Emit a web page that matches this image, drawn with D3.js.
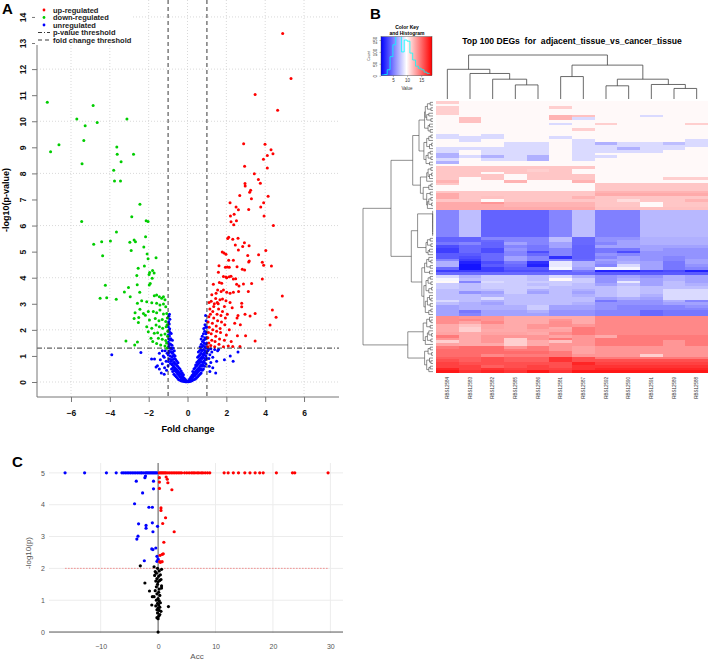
<!DOCTYPE html>
<html><head><meta charset="utf-8">
<script src="https://cdn.jsdelivr.net/npm/d3@7"></script>
<style>body{margin:0;background:#fff}svg{display:block}text{font-family:"Liberation Sans",Arial,sans-serif}</style>
</head><body><svg id="c" width="708" height="661"></svg>
<script>
// ---------------- Panel A data (volcano) ----------------
const volcanoXTicks = [-6,-4,-2,0,2,4,6];
const volcanoYTicks = [0,1,2,3,4,5,6,7,8,9,10,11,12,13,14];
const volcanoGridY = [0,2,4,6,8,10,12,14];
const pThreshold = 1.3;
const fcThresholds = [-1, 1];
const legendLabels = ["up-regulated","down-regulated","unregulated","p-value threshold","fold change threshold"];
const volcanoUp = [
[4.90,13.37],[5.33,11.64],[3.48,11.03],[4.64,10.42],[2.89,9.14],[3.99,9.12],[4.30,8.91],[4.40,8.75],[4.11,8.69],[3.91,8.54],[2.94,8.27],[4.11,8.21],[3.44,7.99],[3.65,7.77],[3.75,7.62],[2.96,7.61],[2.97,7.52],[3.25,7.35],[3.20,7.28],[2.69,7.15],[4.15,7.12],[3.29,7.03],[2.19,6.87],[3.92,6.87],[2.50,6.71],[2.62,6.61],[3.77,6.71],[3.15,6.62],[2.40,6.43],[3.94,6.37],[2.21,6.37],[2.52,6.18],[2.24,6.15],[2.38,6.03],[4.42,6.0],[2.12,5.55],[2.07,5.50],[2.33,5.47],[2.60,5.51],[2.93,5.34],[3.17,5.23],[2.46,5.25],[2.84,5.20],[2.62,5.06],[4.03,5.04],[1.79,4.99],[1.88,4.95],[1.98,4.90],[3.66,4.88],[3.10,4.85],[2.12,4.67],[2.36,4.67],[3.18,4.64],[3.15,4.60],[3.85,4.59],[3.92,4.48],[1.62,4.46],[1.95,4.40],[2.05,4.41],[2.15,4.40],[2.55,4.42],[2.82,4.32],[2.94,4.30],[4.32,4.45],[1.59,4.21],[1.85,4.05],[1.98,4.03],[2.24,4.06],[2.48,3.96],[3.85,3.95],
[1.33,3.75],[1.64,3.82],[1.76,3.79],[2.02,4.0],[2.15,4.04],[2.36,3.95],[2.53,3.75],[2.65,3.68],[2.88,3.76],[3.30,3.78],[1.85,3.53],[2.02,3.44],[2.19,3.40],[2.36,3.44],[2.63,3.47],[3.13,3.47],[1.55,3.53],[1.47,3.40],[1.73,3.47],[4.88,3.30],
[1.11,3.05],[1.22,3.1],[1.38,3.0],[1.53,3.05],[1.67,3.15],[1.80,3.18],[1.98,3.12],[2.19,3.05],[2.79,2.89],[2.79,3.02],[4.37,2.76],[4.56,2.48],[4.25,2.19],[3.22,2.53],[3.48,2.63],[2.96,2.6],[2.6,2.55],[2.55,2.45],[2.43,2.25],[2.72,2.2],[3.48,1.57],[2.99,1.77],[2.57,1.77],[2.10,1.38],[2.33,1.36],[2.70,1.36],
[1.05,1.35],[1.1,1.5],[1.05,1.7],[1.08,1.9],[1.12,2.1],[1.06,2.3],[1.1,2.5],[1.15,2.8],[1.2,1.4],[1.25,1.6],[1.22,1.85],[1.3,2.0],[1.28,2.25],[1.35,2.45],[1.3,2.7],[1.4,1.35],[1.42,1.55],[1.45,1.75],[1.5,1.95],[1.48,2.15],[1.55,2.35],[1.52,2.6],[1.6,2.8],[1.62,1.45],[1.65,1.65],[1.7,1.9],[1.68,2.05],[1.75,2.3],[1.72,2.55],[1.8,2.7],[1.85,1.35],[1.9,1.6],[1.92,2.2],[1.95,2.45],[2.0,1.8],[1.35,2.9],[1.58,3.0],[1.9,2.9],[2.05,2.6],[2.15,2.0],[2.25,1.55],[2.3,2.85],[1.18,2.6],[1.45,3.2],[1.25,3.35]
];
const volcanoDown = [
[-7.22,10.73],[-5.70,10.09],[-4.86,10.6],[-5.27,9.83],[-4.65,9.95],[-3.12,10.09],
[-7.05,8.83],[-6.62,9.1],[-5.34,9.26],[-3.64,9.01],[-3.62,8.73],[-2.78,8.73],[-3.42,8.45],[-5.43,8.37],[-3.80,8.12],[-3.76,7.71],[-3.45,7.71],
[-2.45,6.82],[-2.87,6.34],[-2.13,6.18],[-2.03,6.16],[-5.45,6.16],[-3.66,5.75],[-2.16,5.57],
[-4.83,5.28],[-4.42,5.38],[-3.97,5.41],[-2.97,5.36],[-2.75,5.45],[-2.68,5.38],[-2.25,5.18],[-2.90,5.04],[-2.08,4.91],[-4.37,4.84],[-2.03,4.73],[-1.62,4.77],
[-2.22,4.45],[-2.54,4.36],[-2.61,4.08],[-1.95,4.2],[-1.98,4.12],[-1.80,4.28],[-1.72,4.18],[-1.82,3.98],[-1.92,3.78],[-1.97,3.72],
[-4.23,3.71],[-3.04,3.62],[-2.59,3.73],[-3.25,3.45],[-2.46,3.44],[-4.5,3.21],[-4.16,3.23],[-3.67,3.17],[-2.95,3.27],
[-1.71,3.31],[-1.59,3.34],[-1.45,3.27],[-1.33,3.21],[-1.24,3.27],[-1.16,3.15],[-2.58,3.02],[-2.36,3.12],[-2.10,3.08],[-1.84,3.04],[-1.59,3.02],[-1.42,2.95],[-1.24,2.99],[-1.12,2.89],
[-2.45,2.79],[-2.70,2.66],[-2.27,2.63],[-2.02,2.70],[-1.76,2.70],[-1.59,2.66],[-1.42,2.76],[-1.24,2.61],[-1.07,2.63],
[-2.75,2.44],[-2.51,2.47],[-2.17,2.56],[-1.96,2.38],[-1.66,2.44],[-1.47,2.35],[-1.30,2.40],[-1.12,2.32],
[-2.53,2.28],[-2.10,2.12],[-1.84,2.06],[-1.62,2.19],[-1.45,2.12],[-1.28,2.06],[-1.10,2.12],
[-2.02,1.93],[-1.71,1.87],[-1.54,1.89],[-1.36,1.80],[-1.16,1.84],[-1.88,1.68],[-1.79,1.55],[-1.50,1.68],[-1.30,1.64],[-1.12,1.59],
[-1.59,1.48],[-1.38,1.42],[-1.16,1.38],[-3.17,1.57],[-2.58,1.53],[-2.72,1.42],[-1.07,1.29],
[-1.05,2.2],[-1.03,1.75],[-1.08,1.5],[-1.04,2.45],[-1.02,1.95]
];
const volcanoNone = [
[-0.97,1.35],[-0.99,1.52],[-0.96,1.66],[-0.98,1.81],[-0.95,1.97],[-0.99,2.12],[-0.97,2.31],[-0.96,2.52],
[-0.92,1.3],[-0.94,1.44],[-0.91,1.61],[-0.93,1.76],[-0.9,1.9],[-0.92,2.04],[-0.94,2.22],[-0.91,2.41],[-0.93,2.6],
[-0.96,0.88],[-0.99,1.04],[-0.95,1.19],[-1.0,0.62],[-0.98,0.79],[-0.97,1.12],
[-0.88,0.71],[-0.86,0.86],[-0.89,1.0],[-0.87,1.16],[-0.85,1.3],[-0.88,1.46],[-0.86,1.66],[-0.84,1.86],
[-0.82,0.5],[-0.8,0.66],[-0.83,0.8],[-0.81,0.96],[-0.79,1.1],[-0.82,1.26],[-0.8,1.41],[-0.78,1.6],
[-0.76,0.4],[-0.74,0.56],[-0.77,0.7],[-0.75,0.86],[-0.73,1.0],[-0.76,1.15],[-0.74,1.3],
[-0.7,0.3],[-0.68,0.46],[-0.71,0.6],[-0.69,0.76],[-0.67,0.9],[-0.7,1.05],[-0.68,1.2],
[-0.64,0.25],[-0.62,0.41],[-0.65,0.55],[-0.63,0.7],[-0.61,0.86],[-0.64,1.0],
[-0.58,0.2],[-0.56,0.36],[-0.59,0.5],[-0.57,0.66],[-0.55,0.8],
[-0.52,0.15],[-0.5,0.3],[-0.53,0.45],[-0.51,0.6],[-0.49,0.74],
[-0.46,0.1],[-0.44,0.25],[-0.47,0.4],[-0.45,0.55],
[-0.4,0.08],[-0.38,0.2],[-0.41,0.35],[-0.39,0.5],
[-0.34,0.05],[-0.32,0.15],[-0.35,0.3],[-0.33,0.42],
[-0.28,0.04],[-0.26,0.12],[-0.29,0.22],[-0.27,0.35],
[-0.22,0.03],[-0.2,0.1],[-0.23,0.18],[-0.21,0.28],
[-0.16,0.02],[-0.14,0.07],[-0.17,0.14],[-0.1,0.01],[-0.08,0.05],[-0.11,0.1],[-0.04,0.01],[-0.02,0.03],
[0.04,0.01],[0.02,0.04],[0.1,0.02],[0.08,0.06],[0.11,0.12],[0.16,0.03],[0.14,0.1],[0.17,0.18],
[0.22,0.05],[0.2,0.14],[0.23,0.25],[0.28,0.08],[0.26,0.18],[0.29,0.3],[0.27,0.4],
[0.34,0.1],[0.32,0.22],[0.35,0.35],[0.33,0.5],
[0.4,0.12],[0.38,0.25],[0.41,0.4],[0.39,0.55],[0.42,0.65],
[0.46,0.15],[0.44,0.3],[0.47,0.45],[0.45,0.6],[0.48,0.75],
[0.52,0.2],[0.5,0.35],[0.53,0.5],[0.51,0.65],[0.54,0.8],[0.52,0.95],
[0.58,0.25],[0.56,0.4],[0.59,0.55],[0.57,0.7],[0.6,0.85],[0.58,1.0],[0.56,1.15],
[0.64,0.3],[0.62,0.45],[0.65,0.6],[0.63,0.75],[0.66,0.9],[0.64,1.05],[0.62,1.2],[0.65,1.35],
[0.7,0.35],[0.68,0.5],[0.71,0.65],[0.69,0.8],[0.72,0.95],[0.7,1.1],[0.68,1.25],[0.71,1.45],[0.7,1.65],
[0.76,0.45],[0.74,0.6],[0.77,0.75],[0.75,0.9],[0.78,1.05],[0.76,1.2],[0.74,1.35],[0.77,1.55],[0.76,1.75],
[0.82,0.5],[0.8,0.65],[0.83,0.8],[0.81,0.95],[0.84,1.1],[0.82,1.25],[0.8,1.4],[0.83,1.6],[0.82,1.85],[0.84,2.05],
[0.88,0.6],[0.86,0.75],[0.89,0.9],[0.87,1.05],[0.9,1.2],[0.88,1.35],[0.86,1.5],[0.89,1.7],[0.88,1.95],[0.9,2.2],
[0.94,0.7],[0.92,0.85],[0.95,1.0],[0.93,1.15],[0.96,1.3],[0.94,1.45],[0.92,1.65],[0.95,1.85],[0.94,2.1],[0.96,2.35],[0.93,2.55],
[0.98,0.9],[0.99,1.1],[0.97,1.3],[0.99,1.5],[0.98,1.7],[0.97,1.9],[0.99,2.1],
[-3.9,1.05],[-2.4,1.13],[-1.85,0.88],[-1.7,0.88],[-1.62,0.58],[-1.55,0.62],[-1.45,0.5],[-1.4,0.85],[-1.3,0.7],[-1.25,1.0],[-1.2,0.3],[-1.18,0.55],[-1.15,1.2],[-1.1,0.8],[-1.08,0.45],[-1.05,1.1],[-1.3,1.2],[-1.45,1.1],[-1.2,0.95],[-1.35,0.35],
[1.05,1.2],[1.1,0.9],[1.12,0.6],[1.15,1.05],[1.2,0.75],[1.25,1.15],[1.3,0.55],[1.3,0.95],[1.4,1.25],[1.45,0.35],[1.5,0.8],[1.55,1.2],[1.6,1.25],[1.15,0.4],[1.9,0.85],[2.2,1.0],[2.35,0.8],[2.6,1.15],[1.08,1.25],[1.2,1.28]
];

// ---------------- Panel B data (heatmap) ----------------
const sampleLabels = ["RBS12584","RBS12583","RBS12582","RBS12585","RBS12586","RBS12581","RBS12587","RBS12592","RBS12590","RBS12591","RBS12589","RBS12588"];
const colMergeHeights = [67.5,58,45,32,100,51,77,30,45,33,24];
const rowMergeHeights = [4,8,3,11,6,9,3,12,5,7,4, 20, 3,6,9,2,5,13,4,7,3,10,5, 29, 3,7,2,5,9, 18, 3,6, 14, 4,9,3,6,2,8, 60,
 0.5,0.5,0.5,0.5,0.5,0.5,0.5,0.5,0.5, 22, 4,8,3,10,5,7, 31, 6,3,9,4,12,5, 16, 4,7,3,10,2,6,13,5,3,8,4,11,3,6, 100,
 5,3,9,4,14,6,2,8,3,11, 36, 4,7,2,12,5,3,9,4,6];
const heatValues = [
[11.5,10,10,10,10,10,10,10,10,10,10,10],
[10,10,10,10,10,10,10,10,10,10,10,10],
[11.5,10,10,10,10,11.5,10,10,10,10,10,10],
[11.5,10,10,10,10,10,10,10,10,10,10,10],
[11.5,10,10,10,10,10,10,10,10,10,10,10],
[10,10,10,10,10,12.5,12,10,10,8.5,10,10],
[10,12,10,10,10,12.5,8.5,10,10,10,10,10],
[10,12,10,10,10,10,10,10,10,10,10,10],
[10,10,10,10,10,8.5,10,11.5,10,10,10,11.5],
[10,10,10,10,10,10,10,10,10,10,10,10],
[10,10,10,10,10,10,11.5,10,10,10,10,10],
[10,10,10,10,10,10,10,10,10,10,10,10],
[8.5,10,8.5,10,10,10,10,10,10,10,10,10],
[8.5,8.5,8.5,10,10,8.5,10,10,10,10,10,10],
[10,8.5,10,10,10,10,8.5,10,10,10,10,8.5],
[10,10,10,8.5,8.5,10,8.5,7,8.5,8.5,7.5,8.5],
[10,10,10,8.5,8.5,10,8.5,8.5,8.5,8.5,8.5,8.5],
[8.5,8.5,8.5,8.5,8.5,10,8.5,8.5,7,8.5,8.5,10],
[8.5,10,8.5,8.5,8.5,10,8.5,8.5,8.5,8.5,10,10],
[7,10,8.5,8.5,8.5,10,8.5,10,10,10,10,10],
[7,8.5,7,8.5,7,10,8.5,8.5,10,10,10,10],
[8.5,10,8.5,8.5,7,10,8.5,10,10,10,10,10],
[7,10,10,10,10,10,10,10,10,10,10,10],
[10,10,10,10,10,10,10,10,10,10,10,10],
[11.8,11.8,11.8,11.8,11.8,11.8,11.8,10,10,10,10,10],
[11.8,11.8,11.8,11.8,11.5,11.8,10,10,10,10,10,10],
[11.8,11.8,10,11.8,11.8,11.8,10,10,10,10,10,10],
[11.8,11.8,11.8,10,11.8,11.8,11.8,10,10,10,10,10],
[11.8,10,11.8,10,11.8,11.8,11.8,10,10,10,11.5,11.5],
[12.5,10,10,12.5,10,10,12.5,10,10,10,10,10],
[11.8,10,10,10,10,10,10,11.8,11.8,11.8,11.8,11.8],
[10,10,10,10,10,10,10,11.8,11.8,11.8,11.8,11.8],
[10,10,10,10,10,10,10,11.8,11.8,11.8,11.8,11.8],
[11.8,11.8,11.8,11.8,11.8,11.8,11.8,12.5,12.5,12.5,12.5,12.5],
[12.8,11.8,11.8,11.8,11.8,11.8,11.8,12.8,12.8,12.8,12.8,12.8],
[12.8,11.8,12,11.8,11.8,11.8,12.5,11.8,11.8,11.8,11.8,11.8],
[11.8,11.8,10,11.8,11.8,11.8,11.8,11.8,11,11.8,11.8,12.5],
[12.8,12.8,13.5,12.5,12.5,12.5,12.5,11.8,11.8,10,11.8,11.8],
[12.8,12.8,12.8,12.5,12.5,12.5,12.5,11.8,11.8,10,11.8,11.8],
[12.8,12.8,12.8,12.8,12.8,12.8,12.8,12,12,12,12,12],
[5.5,7.5,4.3,4.3,4.3,5.5,7.5,5.3,5.3,7.3,7.3,7.3],
[5.5,7.5,4.3,4.3,4.3,5.5,7.5,5.3,5.3,7.3,7.3,7.3],
[5.5,7.5,4.3,4.3,4.3,5.5,7.5,5.3,5.3,7.3,7.3,7.3],
[5.5,7.5,4.3,4.3,4.3,5.5,7.5,5.3,5.3,7.3,7.3,7.3],
[5.5,7.5,4.3,4.3,4.3,5.5,7.5,5.3,5.3,7.3,7.3,7.3],
[5.5,7.5,4.3,4.3,4.3,5.5,7.5,5.3,5.3,7.3,7.3,7.3],
[5.5,7.5,4.3,4.3,4.3,5.5,7.5,5.3,5.3,7.3,7.3,7.3],
[5.5,7.5,4.3,4.3,4.3,5.5,7.5,5.3,5.3,7.3,7.3,7.3],
[5.5,7.5,4.3,4.3,4.3,5.5,7.5,5.3,5.3,7.3,7.3,7.3],
[5.5,7.5,4.3,4.3,4.3,5.5,7.5,5.3,5.3,7.3,7.3,7.3],
[4.3,4.3,5.5,5.5,5.5,7.5,4.5,6,6,7,7,7],
[4.3,4.3,4.5,5.5,5.5,7.5,4.5,6,6.5,7,7,7],
[5,5.5,4.3,6.5,5.5,6.5,4.5,5.5,6.5,7,7,7],
[3.5,4.5,4.3,5.5,5,6.5,4.3,6.5,6.5,6.5,6.5,6.5],
[3,4.5,3.5,6,5,5.5,4.3,5,5,6.5,6,6],
[3,4.5,3.5,5.5,3.5,5.5,4.3,5,3.5,6,6,6],
[4,4,4.5,5.5,4.5,5.5,4.3,6,5.5,6,6,6],
[4,3.5,4.5,6.5,5.5,2.5,4.3,5.5,6.5,6,5.5,6],
[5.5,3,4.5,6.5,5.5,5.5,4.5,6.5,6.5,6,5.5,6.5],
[7,2,3.5,5,2.5,9,7,6,7,6.5,5,6.5],
[7,1.5,4,4.5,2,9,7,5.5,8.5,6.5,5,6],
[4.5,1.5,3,4,4,9.5,6.5,9.5,9.5,6.5,5,5.5],
[3,3,3,3.5,3.5,4,5,2,2,3,3.5,2],
[4.5,4.5,4.5,4.5,4.5,4.5,4.5,4,4,4,4,4],
[8.5,7,8,8,7.5,8.5,7,6,6.5,6,7,6.5],
[9.5,7.5,8,8,7.5,10,8,6,7,6.5,7,6.5],
[10,5.5,8.5,8,8,8,8,6,9,6.5,7.5,6.5],
[8,7.5,8,8,7.5,8,7.5,6.5,7.5,6.5,7.5,7],
[8,7.5,8,8,8,7.5,7.5,7.5,8,7.5,7.5,7.5],
[7.5,7.5,7.5,8,7,7.5,7,7.5,8,7.5,8.5,8.5],
[7.5,6,6.5,8,6.5,7.5,6.5,7.5,8,7.5,8.5,8.5],
[7.5,7.5,7,7.5,7.5,7.5,7,7.5,8,7,8.5,8.5],
[7.5,7.5,8.5,7.5,7.5,7.5,7.5,6.5,7,6.5,8.5,8.5],
[8.5,7.5,7,7.5,7.5,7.5,7.5,5,6,6,7,5.5],
[7.5,7,6.5,7.5,7.5,7.5,7,6,6,6,6.5,6.5],
[6.5,7,7,7,8,6.5,6.5,6,5.5,5.5,5.5,6],
[6.5,7,7,7,8,6.5,6.5,6,5.5,5.5,5.5,5.5],
[6.5,5,6.5,6.5,7,6,6,5.5,5.5,4.5,5,5],
[6.5,5.5,6.5,6.5,6.5,6,6,5.5,5.5,4.5,5,5],
[13.8,13.5,13.5,12.8,12.8,12.8,12.8,14,14,14,14,14],
[13.8,14,13.5,12.8,12.8,13.5,12.8,14,14,14,14,14],
[13.8,13,14,12.8,12.8,13.8,12.8,14,14,14,14,14],
[12.8,12,13,12.8,13.5,13.8,13.5,14,14,14,14,14],
[12.8,11.5,13,12.8,13.5,12.8,14.5,14,14,14,14,14],
[12.8,11.5,12.8,12.8,13,13,14.5,14,14,14,14,14],
[13,12.8,13,13,12.8,13.8,14.5,14,14,14,14,14],
[14.5,12.8,13.5,13.5,13.5,13,13.5,12.8,14.5,14.5,14.5,14.5],
[13.5,12.8,13.5,11.5,13.5,14.5,13.5,14.5,14.5,14.5,14.5,14.5],
[11.5,12.8,13.5,11.5,12.8,12,13.5,14.5,14.5,14.5,13.5,14.5],
[13,12.8,12.8,11.5,12.8,13.5,13.5,14.5,14.5,14.5,13.5,14.5],
[14.5,15,15,13.5,14.5,13.5,13,13.5,13.5,13.5,13.5,13.5],
[15,15,15,14.5,14.5,13.5,13,13.5,13.5,13.5,13.5,13.5],
[15,15,15,15,15,14.5,13,13.5,13.5,13.5,13.5,13.5],
[15,15,14,14.5,14.5,14.5,13.5,13.5,13.5,11.5,13.5,13.5],
[15.5,15.5,16,15.5,15.5,17,16,14.5,14.5,14.5,14.5,14.5],
[16,15.5,16,15.5,15.5,17,16,16,16,16,16,16],
[16.5,16,16,16,16,16,17.5,16.5,16.5,16.5,16.5,16.5],
[16.5,16.5,15.5,16,16.5,16,17,17,17,17,17,17],
[17.5,16.5,17,16.5,16.5,16.5,17,17.5,17.5,17.5,17.5,17.5],
[18,17,17.5,17,18,17,18,18,18,18,18,18]
];
const keyTicks = [5,10,15];
const keyCountTicks = [0,50,100,150];
const histBinStarts = [1,2,3,4,5,6,7,8,9,10,11,12,13,14,15,16,17];
const histCounts = [3,5,25,80,130,175,175,100,150,145,95,66,40,31,25,15,10];
const heatTitle = "Top 100 DEGs  for  adjacent_tissue_vs_cancer_tissue";

// ---------------- Panel C data ----------------
const accXTicks = [-10,0,10,20,30];
const accYTicks = [0,1,2,3,4,5];
const accThreshold = 2;
const accBlueTopX = [-16.2,-12.8,-9.0,-7.3,-6.3,-6.0,-5.7,-5.4,-5.1,-4.8,-4.5,-4.2,-3.9,-3.6,-3.3,-3.0,-2.8,-2.5,-2.2,-2.0,-1.8,-1.6,-1.4,-1.2,-1.0,-0.8,-0.6,-0.4,-0.2];
const accRedTopX = [0.2,0.4,0.6,0.8,1.0,1.2,1.4,1.7,2.0,2.3,2.6,2.9,3.2,3.5,3.8,4.1,4.6,5.0,5.4,5.8,6.1,6.4,6.8,7.1,7.5,7.8,8.2,8.6,9.0,11.5,12.2,13.1,14.0,15.1,16.0,16.9,17.7,18.3,20.6,23.4,23.8,29.6];
const accBlue = [[-3.8,4.74],[-2.3,4.85],[-2.2,4.9],[-0.8,4.74],[-0.8,4.5],[-2.7,4.37],[-4.1,4.03],[-1.6,3.92],[-1.0,3.92],[-3.4,3.40],[-2.1,3.35],[-2.1,3.26],[-1.0,3.43],[-0.1,3.32],[-0.9,3.15],[-3.5,3.01],[-3.7,2.92],[-1.1,2.61],[-0.9,2.59],[-0.4,2.64],[-0.2,2.38],[0.0,2.29],[-0.2,2.22],[-2.4,2.24]];
const accRed = [[0.23,4.85],[1.4,4.87],[1.6,4.8],[0.23,4.71],[1.7,4.69],[0.23,4.51],[2.4,4.47],[0.5,3.9],[0.5,3.82],[1.3,3.59],[0.8,3.41],[2.8,3.15],[1.0,2.82],[0.35,2.41],[0.75,2.44],[0.9,2.46],[0.3,2.21],[0.7,2.21],[0.4,2.19]];
const accBlack = [[-3.1,2.08],[-0.7,2.05],[-0.1,2.0],[0.6,1.97],[-0.5,1.9],[0.2,1.92],[-0.3,1.85],[0.4,1.8],[-0.6,1.78],[0.1,1.75],[-0.2,1.68],[0.5,1.65],[-0.4,1.6],[0.3,1.62],[0.0,1.58],[-2.3,1.54],[-0.1,1.5],[0.6,1.45],[-0.3,1.42],[0.6,1.38],[0.2,1.35],[-0.5,1.3],[-1.5,1.29],[0.1,1.25],[-0.2,1.2],[0.3,1.15],[-1.0,1.11],[-0.7,1.11],[0.0,1.05],[-0.3,1.0],[0.2,0.98],[0.4,0.92],[-0.1,0.9],[-1.1,0.85],[0.1,0.85],[-0.4,0.82],[1.8,0.80],[0.3,0.78],[0.0,0.75],[-0.2,0.7],[0.2,0.68],[0.5,0.65],[-0.1,0.6],[0.3,0.55],[0.1,0.5],[-0.2,0.45],[0.0,0.42],[0.0,0.0]];

// ================= DRAW =================
const svg = d3.select("#c");
svg.append("rect").attr("width",708).attr("height",661).attr("fill","#fff");
const FONT = '"Liberation Sans",Arial,sans-serif';

// ---------- Panel A ----------
(function(){
  const xA = d3.scaleLinear().domain([-7.75,7.8]).range([37,339]);
  const yA = d3.scaleLinear().domain([-0.575,14.65]).range([397,0]);
  const g = svg.append("g");
  g.selectAll(".vg").data(volcanoXTicks).join("line")
    .attr("x1",d=>xA(d)).attr("x2",d=>xA(d)).attr("y1",0).attr("y2",397)
    .attr("stroke","#cfcfcf").attr("stroke-width",0.8).attr("stroke-dasharray","1,2");
  g.selectAll(".hg").data(volcanoGridY).join("line")
    .attr("x1",37).attr("x2",339).attr("y1",d=>yA(d)).attr("y2",d=>yA(d))
    .attr("stroke","#cfcfcf").attr("stroke-width",0.8).attr("stroke-dasharray","1,2");
  const drawPts=(data,col)=>g.append("g").selectAll("circle").data(data).join("circle")
    .attr("cx",d=>xA(d[0])).attr("cy",d=>yA(d[1])).attr("r",1.5).attr("fill",col);
  drawPts(volcanoNone,"#0000ff");
  drawPts(volcanoDown,"#00cd00");
  drawPts(volcanoUp,"#ff0000");
  g.selectAll(".fc").data(fcThresholds).join("line")
    .attr("x1",d=>xA(d)).attr("x2",d=>xA(d)).attr("y1",0).attr("y2",397)
    .attr("stroke","#222").attr("stroke-width",0.9).attr("stroke-dasharray","4,3");
  g.append("line").attr("x1",37).attr("x2",339).attr("y1",yA(pThreshold)).attr("y2",yA(pThreshold))
    .attr("stroke","#222").attr("stroke-width",0.9).attr("stroke-dasharray","5,2,1,2");
  const gy = g.append("g").attr("transform","translate(37,0)")
    .call(d3.axisLeft(yA).tickValues(volcanoYTicks).tickSize(5).tickFormat(d3.format("d")));
  gy.select(".domain").remove();
  gy.selectAll(".tick line").attr("stroke","#777");
  gy.selectAll(".tick text").attr("x",0).attr("dy","0").attr("transform","translate(-11,0) rotate(-90)")
    .attr("text-anchor","middle").attr("fill","#111").attr("font-size",8.5).attr("font-weight","bold").attr("font-family",FONT);
  const gx = g.append("g").attr("transform","translate(0,397)")
    .call(d3.axisBottom(xA).tickValues(volcanoXTicks).tickSize(5).tickPadding(8).tickFormat(d3.format("d")));
  gx.select(".domain").remove();
  gx.selectAll(".tick line").attr("stroke","#777");
  gx.selectAll(".tick text").attr("fill","#111").attr("font-size",8.5).attr("font-weight","bold").attr("font-family",FONT);
  g.append("line").attr("x1",37).attr("x2",37).attr("y1",0).attr("y2",397).attr("stroke","#777");
  g.append("line").attr("x1",37).attr("x2",339).attr("y1",397).attr("y2",397).attr("stroke","#777");
  g.append("text").attr("x",188).attr("y",432).attr("text-anchor","middle").attr("font-size",9).attr("font-weight","bold").text("Fold change");
  g.append("text").attr("transform","translate(9,200) rotate(-90)").attr("text-anchor","middle").attr("font-size",9).attr("font-weight","bold").text("-log10(p-value)");
  g.append("rect").attr("x",35).attr("y",0).attr("width",96).attr("height",45).attr("fill","#fff");
  const ly = d3.scalePoint().domain(legendLabels).range([10,40]);
  const lg = g.append("g");
  const cols = ["#ff0000","#00cd00","#0000ff"];
  lg.selectAll("circle").data(legendLabels.slice(0,3)).join("circle")
    .attr("cx",44).attr("cy",d=>ly(d)).attr("r",1.4).attr("fill",(d,i)=>cols[i]);
  lg.append("line").attr("x1",38).attr("x2",50).attr("y1",ly(legendLabels[3])).attr("y2",ly(legendLabels[3]))
    .attr("stroke","#222").attr("stroke-width",0.9).attr("stroke-dasharray","4,2,1,2");
  lg.append("line").attr("x1",38).attr("x2",50).attr("y1",ly(legendLabels[4])).attr("y2",ly(legendLabels[4]))
    .attr("stroke","#222").attr("stroke-width",0.9).attr("stroke-dasharray","4,3");
  lg.selectAll("text").data(legendLabels).join("text")
    .attr("x",53).attr("y",d=>ly(d)+2.7).attr("font-size",7.5).attr("font-weight","bold").attr("fill","#222").text(d=>d);
  svg.append("text").attr("x",2).attr("y",14).attr("font-size",15).attr("font-weight","bold").text("A");
})();

// ---------- Panel B ----------
(function(){
  const g = svg.append("g");
  const colX = d3.scaleBand().domain(d3.range(sampleLabels.length)).range([436,708]);
  const rowY = d3.scaleBand().domain(d3.range(heatValues.length)).range([101,373]);
  const heatColor = d3.scaleLinear().domain([0.8,9.8,18.8]).range(["#0000ff","#ffffff","#ff0000"]);
  const cells = [];
  heatValues.forEach((row,i)=>row.forEach((v,j)=>cells.push({i,j,v})));
  g.append("g").attr("shape-rendering","crispEdges").selectAll("rect").data(cells).join("rect")
    .attr("x",d=>colX(d.j)).attr("y",d=>rowY(d.i))
    .attr("width",colX.bandwidth()+0.4).attr("height",rowY.bandwidth()+0.4)
    .attr("fill",d=>heatColor(d.v));
  function build(gaps,lo,hi){
    if(lo===hi) return {pos:lo,h:0};
    let k=lo; for(let i=lo;i<hi;i++) if(gaps[i]>gaps[k]) k=i;
    const L=build(gaps,lo,k), R=build(gaps,k+1,hi);
    return {L,R,h:gaps[k],pos:(L.pos+R.pos)/2};
  }
  function segs(n,out){ if(!n.L) return out; out.push(n); segs(n.L,out); segs(n.R,out); return out; }
  const colTree = build(colMergeHeights,0,sampleLabels.length-1);
  const cH = d3.scaleLinear().domain([0,100]).range([99,55]);
  const cP = p=>colX(0)+colX.bandwidth()*(p+0.5);
  const dg = g.append("g").attr("stroke","#444").attr("stroke-width",0.8).attr("fill","none");
  segs(colTree,[]).forEach(n=>{
    dg.append("path").attr("d",`M${cP(n.L.pos)},${cH(n.L.h)}V${cH(n.h)}H${cP(n.R.pos)}V${cH(n.R.h)}`);
  });
  const rowTree = build(rowMergeHeights,0,heatValues.length-1);
  const rH = d3.scaleLinear().domain([0,100]).range([433,363]);
  const rP = p=>rowY(0)+rowY.bandwidth()*(p+0.5);
  const rg = g.append("g").attr("stroke","#444").attr("stroke-width",0.6).attr("fill","none");
  segs(rowTree,[]).forEach(n=>{
    rg.append("path").attr("d",`M${rH(n.L.h)},${rP(n.L.pos)}H${rH(n.h)}V${rP(n.R.pos)}H${rH(n.R.h)}`);
  });
  g.selectAll(".cl").data(sampleLabels).join("text")
    .attr("transform",(d,i)=>`translate(${cP(i)+1.5},377) rotate(-90)`)
    .attr("text-anchor","end").attr("font-size",4.5).attr("fill","#333").text(d=>d);
  g.append("text").attr("x",572).attr("y",44).attr("text-anchor","middle").attr("font-size",8.6)
    .attr("font-weight","bold").style("white-space","pre").text(heatTitle);
  const kx = d3.scaleLinear().domain([0.8,18.8]).range([381,432]);
  const ky = d3.scaleLinear().domain([0,150]).range([75.7,40]);
  const defs = svg.append("defs");
  const grad = defs.append("linearGradient").attr("id","kg").attr("x1","0").attr("x2","1").attr("y1","0").attr("y2","0");
  d3.range(0,1.0001,0.05).forEach(t=>grad.append("stop").attr("offset",t).attr("stop-color",heatColor(0.8+18*t)));
  defs.append("clipPath").attr("id","kc").append("rect").attr("x",381).attr("y",36.7).attr("width",51).attr("height",39);
  g.append("rect").attr("x",381).attr("y",36.7).attr("width",51).attr("height",39).attr("fill","url(#kg)");
  const hpts = histBinStarts.map((b,i)=>[b,histCounts[i]]);
  hpts.push([histBinStarts[histBinStarts.length-1]+1,histCounts[histCounts.length-1]]);
  g.append("path").attr("clip-path","url(#kc)").attr("d",d3.line().curve(d3.curveStepAfter).x(d=>kx(d[0])).y(d=>ky(d[1]))(hpts))
    .attr("fill","none").attr("stroke","#00ffff").attr("stroke-width",0.8);
  g.append("rect").attr("x",381).attr("y",36.7).attr("width",51).attr("height",39).attr("fill","none").attr("stroke","#333").attr("stroke-width",0.4);
  const kax = g.append("g").attr("transform","translate(0,75.7)")
    .call(d3.axisBottom(kx).tickValues(keyTicks).tickSize(1.5).tickPadding(1.5));
  kax.select(".domain").remove();
  kax.selectAll("line").attr("stroke","#444").attr("stroke-width",0.4);
  kax.selectAll("text").attr("font-size",4.5).attr("fill","#333").attr("font-family",FONT);
  const kay = g.append("g").attr("transform","translate(381,0)")
    .call(d3.axisLeft(ky).tickValues(keyCountTicks).tickSize(1.5).tickPadding(1.5));
  kay.select(".domain").remove();
  kay.selectAll("line").attr("stroke","#444").attr("stroke-width",0.4);
  kay.selectAll("text").attr("x",0).attr("dy",0).attr("transform","translate(-4,0) rotate(-90)").attr("text-anchor","middle")
    .attr("font-size",4.5).attr("fill","#333").attr("font-family",FONT);
  g.append("text").attr("x",407).attr("y",90).attr("text-anchor","middle").attr("font-size",4.5).attr("fill","#333").text("Value");
  g.append("text").attr("transform","translate(370,56) rotate(-90)").attr("text-anchor","middle").attr("font-size",3.5).attr("fill","#333").text("Count");
  g.append("text").attr("x",407).attr("y",28.5).attr("text-anchor","middle").attr("font-size",5).attr("font-weight","bold").text("Color Key");
  g.append("text").attr("x",407).attr("y",34.5).attr("text-anchor","middle").attr("font-size",5).attr("font-weight","bold").text("and Histogram");
  svg.append("text").attr("x",370).attr("y",18.5).attr("font-size",15).attr("font-weight","bold").text("B");
})();

// ---------- Panel C ----------
(function(){
  const g = svg.append("g");
  const xC = d3.scaleLinear().domain([-19,32.2]).range([49,343]);
  const yC = d3.scaleLinear().domain([-0.03,5.31]).range([633,463]);
  g.selectAll(".vg").data(accXTicks.filter(d=>d!==0)).join("line")
    .attr("x1",d=>xC(d)).attr("x2",d=>xC(d)).attr("y1",463).attr("y2",633).attr("stroke","#ececec");
  g.selectAll(".hg").data(accYTicks.filter(d=>d!==0)).join("line")
    .attr("x1",49).attr("x2",343).attr("y1",d=>yC(d)).attr("y2",d=>yC(d)).attr("stroke","#ececec");
  g.append("line").attr("x1",xC(0)).attr("x2",xC(0)).attr("y1",463).attr("y2",633).attr("stroke","#555").attr("stroke-width",1);
  g.append("line").attr("x1",49).attr("x2",343).attr("y1",yC(0)).attr("y2",yC(0)).attr("stroke","#555").attr("stroke-width",1);
  g.append("line").attr("x1",xC(-16.2)).attr("x2",xC(29.6)).attr("y1",yC(accThreshold)).attr("y2",yC(accThreshold))
    .attr("stroke","#f08080").attr("stroke-width",0.9).attr("stroke-dasharray","1.5,1.5");
  const pts=(data,col)=>g.append("g").selectAll("circle").data(data).join("circle")
    .attr("cx",d=>xC(d[0])).attr("cy",d=>yC(d[1])).attr("r",1.6).attr("fill",col);
  pts(accBlack,"#000");
  pts(accBlue,"#0000ff");
  pts(accRed,"#ff0000");
  pts(accBlueTopX.map(x=>[x,5]),"#0000ff");
  pts(accRedTopX.map(x=>[x,5]),"#ff0000");
  const ax = g.append("g").attr("transform","translate(0,633)")
    .call(d3.axisBottom(xC).tickValues(accXTicks).tickSize(0).tickPadding(11).tickFormat(d=>d<0?"\u2212"+Math.abs(d):String(d)));
  ax.select(".domain").remove();
  ax.selectAll("text").attr("font-size",7).attr("fill","#555").attr("font-family",FONT);
  const ay = g.append("g").attr("transform","translate(49,0)")
    .call(d3.axisLeft(yC).tickValues(accYTicks).tickSize(0).tickPadding(4).tickFormat(d3.format("d")));
  ay.select(".domain").remove();
  ay.selectAll("text").attr("font-size",7).attr("fill","#555").attr("font-family",FONT);
  g.append("text").attr("x",197).attr("y",659).attr("text-anchor","middle").attr("font-size",8).attr("fill","#555").text("Acc");
  g.append("text").attr("transform","translate(31,553) rotate(-90)").attr("text-anchor","middle").attr("font-size",8).attr("fill","#555").text("-log10(p)");
  svg.append("text").attr("x",12).attr("y",467).attr("font-size",15).attr("font-weight","bold").text("C");
})();
</script></body></html>
